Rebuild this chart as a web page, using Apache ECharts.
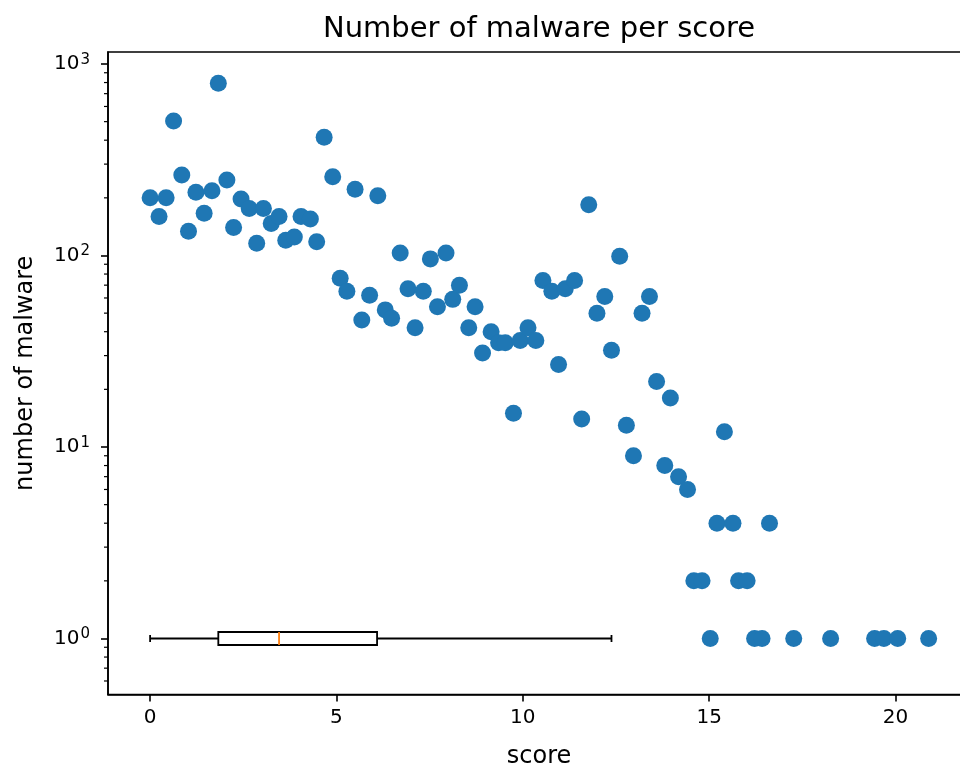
<!DOCTYPE html>
<html>
<head>
<meta charset="utf-8">
<script src="https://cdn.jsdelivr.net/npm/echarts@6/dist/echarts.min.js"></script>
<style>html,body{margin:0;padding:0;background:#fff;overflow:hidden}#chart{width:960px;height:767px}</style>
</head>
<body>
<div id="chart"></div>
<script>
// ---- data ----
const scores = [0, 0.24, 0.43, 0.63, 0.85, 1.03, 1.23, 1.45, 1.66, 1.83,
  2.06, 2.24, 2.44, 2.66, 2.86, 3.04, 3.25, 3.46, 3.64, 3.87,
  4.05, 4.30, 4.47, 4.67, 4.90, 5.10, 5.28, 5.50, 5.68, 5.89,
  6.11, 6.31, 6.48, 6.71, 6.92, 7.11, 7.33, 7.52, 7.71, 7.94,
  8.12, 8.30, 8.55, 8.72, 8.92, 9.15, 9.35, 9.53, 9.75, 9.93,
  10.14, 10.35, 10.54, 10.78, 10.96, 11.14, 11.39, 11.58, 11.77, 11.99,
  12.20, 12.38, 12.60, 12.78, 12.97, 13.20, 13.40, 13.59, 13.81, 13.96,
  14.18, 14.42, 14.59, 14.81, 15.03, 15.21, 15.41, 15.64, 15.79, 16.02,
  16.22, 16.42, 16.62, 17.27, 18.26, 19.44, 19.69, 20.06, 20.89];
const counts = [200, 160, 200, 504, 263, 134, 214, 166, 218, 793,
  248, 140, 197, 176, 116, 176, 147, 160, 120, 125,
  160, 155, 118, 414, 258, 76, 65, 222, 46, 62,
  205, 52, 47, 103, 67, 42, 65, 96, 54, 103,
  59, 70, 42, 54, 31, 40, 35, 35, 15, 36,
  42, 36, 74, 65, 27, 67, 74, 14, 184, 50,
  61, 32, 99, 13, 9, 50, 61, 22, 8, 18,
  7, 6, 2, 2, 1, 4, 12, 4, 2, 2,
  1, 1, 4, 1, 1, 1, 1, 1, 1];
// boxplot of scores: [lower whisker, Q1, median, Q3, upper whisker], drawn at count level 1
const boxStats = [0, 1.83, 3.46, 6.09, 12.38];
const boxLevel = 1;
const xTicks = [0, 5, 10, 15, 20];
const yMajorTicks = [1, 10, 100, 1000];
const yMinorTicks = [0.6, 0.7, 0.8, 0.9, 2, 3, 4, 5, 6, 7, 8, 9,
  20, 30, 40, 50, 60, 70, 80, 90, 200, 300, 400, 500, 600, 700, 800, 900];
const xMin = -1.13, xMax = 22.0, yMin = 0.51, yMax = 1155;

const FONT = 'DejaVu Sans';
const chart = echarts.init(document.getElementById('chart'), null, {renderer: 'canvas'});
const option = {
  animation: false,
  backgroundColor: '#fff',
  title: {
    text: 'Number of malware per score',
    left: 534, top: 10, textAlign: 'center',
    textStyle: {fontFamily: FONT, fontSize: 29, fontWeight: 'normal', color: '#000'}
  },
  grid: {left: 108, top: 52, width: 862, height: 642.5, show: true,
    outerBoundsMode: 'none', containLabel: false,
    borderColor: '#000', borderWidth: 1.6, backgroundColor: 'transparent'},
  xAxis: {
    type: 'value', min: xMin, max: xMax,
    name: 'score', nameLocation: 'middle', nameGap: 50,
    nameTextStyle: {fontFamily: FONT, fontSize: 24, color: '#000'},
    axisLine: {show: true, onZero: false, lineStyle: {color: '#000', width: 1.6}},
    axisTick: {show: true, customValues: xTicks, length: 7, lineStyle: {color: '#000', width: 1.6}},
    axisLabel: {customValues: xTicks, margin: 13, fontFamily: FONT, fontSize: 20, color: '#000'},
    splitLine: {show: false}
  },
  yAxis: {
    type: 'log', logBase: 10, min: yMin, max: yMax,
    name: 'number of malware', nameLocation: 'middle', nameGap: 70,
    nameTextStyle: {fontFamily: FONT, fontSize: 24, color: '#000'},
    axisLine: {show: true, onZero: false, lineStyle: {color: '#000', width: 1.6}},
    axisTick: {show: true, customValues: yMajorTicks, length: 7, lineStyle: {color: '#000', width: 1.6}},
    axisLabel: {
      customValues: yMajorTicks, margin: 18, fontFamily: FONT, fontSize: 20, color: '#000',
      formatter: v => '10{sup|' + Math.round(Math.log10(v)) + '}',
      rich: {sup: {fontFamily: FONT, fontSize: 15, color: '#000', verticalAlign: 'top', padding: [0, 0, 8, 1]}}
    },
    splitLine: {show: false}
  },
  series: [
    {
      type: 'scatter', symbol: 'circle', symbolSize: 17,
      itemStyle: {color: '#1f77b4', opacity: 1},
      data: scores.map((s, i) => [s, counts[i]]),
      z: 3
    },
    {
      type: 'custom', clip: false, silent: true, z: 4,
      data: yMinorTicks.map(v => [xMin, v]),
      renderItem: (params, api) => {
        const p = api.coord([api.value(0), api.value(1)]);
        return {type: 'line', shape: {x1: p[0] - 4, y1: p[1], x2: p[0], y2: p[1]},
          style: {stroke: '#000', lineWidth: 1.2}};
      }
    },
    {
      type: 'custom', clip: false, silent: true, z: 5,
      data: [boxStats.concat([boxLevel])],
      renderItem: (params, api) => {
        const lv = api.value(5);
        const pts = [0, 1, 2, 3, 4].map(k => api.coord([api.value(k), lv]));
        const cy = pts[0][1];
        const h = 6.5, ch = 3.5;
        const st = {stroke: '#000', lineWidth: 1.8, fill: null};
        return {type: 'group', children: [
          {type: 'line', shape: {x1: pts[0][0], y1: cy, x2: pts[1][0], y2: cy}, style: st},
          {type: 'line', shape: {x1: pts[3][0], y1: cy, x2: pts[4][0], y2: cy}, style: st},
          {type: 'line', shape: {x1: pts[0][0], y1: cy - ch, x2: pts[0][0], y2: cy + ch}, style: st},
          {type: 'line', shape: {x1: pts[4][0], y1: cy - ch, x2: pts[4][0], y2: cy + ch}, style: st},
          {type: 'rect', shape: {x: pts[1][0], y: cy - h, width: pts[3][0] - pts[1][0], height: 2 * h},
            style: {stroke: '#000', lineWidth: 1.8, fill: 'none'}},
          {type: 'line', shape: {x1: pts[2][0], y1: cy - h, x2: pts[2][0], y2: cy + h},
            style: {stroke: '#ff7f0e', lineWidth: 1.8}}
        ]};
      }
    }
  ]
};
chart.setOption(option);
</script>
</body>
</html>
